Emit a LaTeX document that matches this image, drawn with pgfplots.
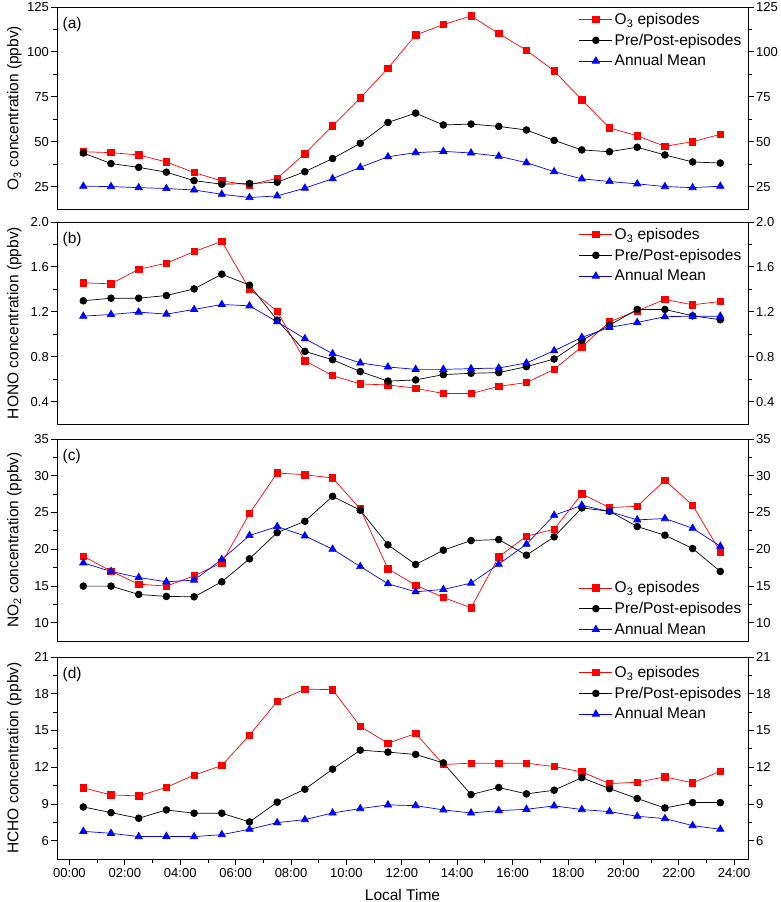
\documentclass[border=0pt]{standalone}
\usepackage{fontspec}
\setmainfont{Liberation Sans}
\usepackage{pgfplots}
\usepackage{pgfplotstable}
\pgfplotsset{compat=1.18}

% diurnal profiles, hour t = 0.5 ... 23.5
% r = O3 episodes, k = pre/post-episodes, b = annual mean
\pgfplotstableread{
t    r      k      b
0.5  44.4   43.7   25.2
1.5  43.9   37.8   25.0
2.5  42.6   35.7   24.4
3.5  38.7   33.0   23.9
4.5  32.8   28.3   23.1
5.5  28.1   26.3   20.7
6.5  25.9   26.7   18.9
7.5  29.6   27.4   19.8
8.5  43.3   33.3   24.1
9.5  58.9   40.6   29.4
10.5 74.3   49.1   35.7
11.5 90.9   60.7   41.6
12.5 109.4  65.9   43.9
13.5 115.2  59.3   44.6
14.5 120.0  59.8   43.7
15.5 110.2  58.5   41.9
16.5 100.9  56.5   38.3
17.5 89.4   50.7   33.3
18.5 73.3   45.4   29.3
19.5 57.6   44.4   27.8
20.5 53.3   46.9   26.5
21.5 47.4   42.6   25.0
22.5 50.0   38.7   24.4
23.5 54.1   38.1   25.2
}\otrois

\pgfplotstableread{
t    r      k      b
0.5  1.458  1.298  1.161
1.5  1.449  1.321  1.176
2.5  1.579  1.321  1.197
3.5  1.633  1.345  1.179
4.5  1.736  1.404  1.221
5.5  1.828  1.535  1.265
6.5  1.401  1.437  1.253
7.5  1.206  1.126  1.111
8.5  0.764  0.847  0.960
9.5  0.631  0.773  0.827
10.5 0.557  0.667  0.744
11.5 0.548  0.582  0.708
12.5 0.519  0.593  0.687
13.5 0.471  0.640  0.687
14.5 0.471  0.652  0.693
15.5 0.536  0.658  0.699
16.5 0.569  0.711  0.744
17.5 0.687  0.779  0.853
18.5 0.889  0.945  0.972
19.5 1.111  1.081  1.061
20.5 1.209  1.221  1.105
21.5 1.310  1.221  1.156
22.5 1.262  1.164  1.161
23.5 1.292  1.129  1.161
}\hono

\pgfplotstableread{
t    r      k      b
0.5  19.05  14.97  18.14
1.5  17.00  14.97  16.97
2.5  15.24  13.84  16.15
3.5  14.97  13.57  15.56
4.5  16.38  13.52  15.79
5.5  18.14  15.56  18.60
6.5  24.85  18.69  21.86
7.5  30.37  22.26  23.08
8.5  30.14  23.80  21.81
9.5  29.69  27.20  20.00
10.5 25.48  25.30  17.64
11.5 17.33  20.59  15.29
12.5 15.10  17.92  14.20
13.5 13.43  19.86  14.52
14.5 12.03  21.18  15.38
15.5 18.96  21.31  17.96
16.5 21.77  19.18  20.68
17.5 22.72  21.68  24.62
18.5 27.52  25.62  25.98
19.5 25.66  25.16  25.12
20.5 25.84  23.08  23.99
21.5 29.38  21.90  24.17
22.5 25.98  20.09  22.85
23.5 19.64  16.97  20.41
}\notwo

\pgfplotstableread{
t    r      k      b
0.5  10.31  8.75   6.76
1.5  9.74   8.29   6.60
2.5  9.65   7.83   6.33
3.5  10.36  8.51   6.35
4.5  11.35  8.24   6.33
5.5  12.14  8.24   6.49
6.5  14.62  7.53   6.93
7.5  17.37  9.14   7.47
8.5  18.38  10.20  7.72
9.5  18.33  11.84  8.26
10.5 15.33  13.39  8.62
11.5 13.96  13.23  8.92
12.5 14.75  13.04  8.86
13.5 12.22  12.35  8.51
14.5 12.33  9.76   8.26
15.5 12.33  10.34  8.45
16.5 12.33  9.82   8.56
17.5 12.05  10.12  8.84
18.5 11.62  11.15  8.54
19.5 10.66  10.25  8.37
20.5 10.77  9.44   7.99
21.5 11.21  8.67   7.80
22.5 10.72  9.11   7.23
23.5 11.67  9.11   6.93
}\hcho

\newcommand\tickfont{\fontsize{13}{15}\selectfont}
\newcommand\labfont{\fontsize{15.5}{18}\selectfont}
\newcommand\legfont{\fontsize{15.5}{18}\selectfont}

\pgfplotsset{
  panel/.style={
    scale only axis, width=691pt, height=202pt,
    anchor=north west,
    xmin=-0.45, xmax=24.5,
    tick align=outside,
    major tick length=6pt, minor tick length=3.5pt,
    axis line style={line width=0.9pt},
    tick style={black, line width=0.8pt},
    minor y tick num=1,
    xmajorticks=false,
    /pgf/number format/assume math mode=true,
    tick label style={font=\tickfont},
    yticklabel style={inner sep=2pt},
    label style={font=\labfont},
    ylabel style={at={(axis description cs:0,0.5)}, anchor=base, yshift=38.5pt},
  },
  leftside/.style={panel, ytick pos=left,
    legend style={draw=none, fill=none, font=\legfont, row sep=4pt,
      inner sep=1pt, cells={anchor=west}},
    legend image code/.code={
      \draw[mark repeat=2,mark phase=2,##1] plot coordinates {(0pt,0pt) (16.5pt,0pt) (33pt,0pt)};},
  },
  rightside/.style={panel, hide x axis, axis y line*=right, ytick pos=right, yticklabel pos=right},
  pa/.style={ymin=12.5, ymax=125, ytick={25,50,75,100,125}},
  pb/.style={ymin=0.2, ymax=2.0, ytick={0.4,0.8,1.2,1.6,2.0},
    yticklabel style={/pgf/number format/.cd, fixed, fixed zerofill, precision=1}},
  pc/.style={ymin=7.5, ymax=35, ytick={10,15,20,25,30,35}},
  pd/.style={ymin=4.5, ymax=21, ytick={6,9,12,15,18,21}},
  sred/.style={red, line width=0.7pt, mark=square*, mark size=3.2pt, mark options={solid}},
  sblack/.style={black, line width=0.7pt, mark=*, mark size=3.4pt, mark options={solid}},
  sblue/.style={blue, line width=0.7pt, mark=triangle*, mark size=4.2pt, mark options={solid}},
}

\begin{document}
\begin{tikzpicture}
\useasboundingbox (-57pt,7pt) rectangle (724pt,-895pt);

% (a) O3
\begin{axis}[leftside, pa, at={(0pt,0pt)},
  ylabel={O\textsubscript{3} concentration (ppbv)},
  legend style={at={(rel axis cs:0.995,0.985)}, anchor=north east}]
  \addplot[sred] table[x=t, y=r] {\otrois};
  \addplot[sblack] table[x=t, y=k] {\otrois};
  \addplot[sblue] table[x=t, y=b] {\otrois};
  \legend{O\textsubscript{3} episodes, Pre/Post-episodes, Annual Mean}
  \node[anchor=west, font=\legfont] at (rel axis cs:0.003,0.915) {(a)};
\end{axis}
\begin{axis}[rightside, pa, at={(0pt,0pt)}]
\end{axis}

% (b) HONO
\begin{axis}[leftside, pb, at={(0pt,-215pt)},
  ylabel={HONO concentration (ppbv)},
  legend style={at={(rel axis cs:0.995,0.985)}, anchor=north east}]
  \addplot[sred] table[x=t, y=r] {\hono};
  \addplot[sblack] table[x=t, y=k] {\hono};
  \addplot[sblue] table[x=t, y=b] {\hono};
  \legend{O\textsubscript{3} episodes, Pre/Post-episodes, Annual Mean}
  \node[anchor=west, font=\legfont] at (rel axis cs:0.003,0.915) {(b)};
\end{axis}
\begin{axis}[rightside, pb, at={(0pt,-215pt)}]
\end{axis}

% (c) NO2
\begin{axis}[leftside, pc, at={(0pt,-432pt)},
  ylabel={NO\textsubscript{2} concentration (ppbv)},
  legend style={at={(rel axis cs:0.995,0.01)}, anchor=south east}]
  \addplot[sred] table[x=t, y=r] {\notwo};
  \addplot[sblack] table[x=t, y=k] {\notwo};
  \addplot[sblue] table[x=t, y=b] {\notwo};
  \legend{O\textsubscript{3} episodes, Pre/Post-episodes, Annual Mean}
  \node[anchor=west, font=\legfont] at (rel axis cs:0.003,0.915) {(c)};
\end{axis}
\begin{axis}[rightside, pc, at={(0pt,-432pt)}]
\end{axis}

% (d) HCHO
\begin{axis}[leftside, pd, at={(0pt,-650pt)},
  ylabel={HCHO concentration (ppbv)},
  xmajorticks=true, xtick pos=bottom,
  xtick={0,2,...,24}, minor x tick num=1,
  xticklabels={00:00,02:00,04:00,06:00,08:00,10:00,12:00,14:00,16:00,18:00,20:00,22:00,24:00},
  xlabel={Local Time},
  xlabel style={at={(axis description cs:0.5,0)}, anchor=base, yshift=-41pt},
  legend style={at={(rel axis cs:0.995,0.97)}, anchor=north east}]
  \addplot[sred] table[x=t, y=r] {\hcho};
  \addplot[sblack] table[x=t, y=k] {\hcho};
  \addplot[sblue] table[x=t, y=b] {\hcho};
  \legend{O\textsubscript{3} episodes, Pre/Post-episodes, Annual Mean}
  \node[anchor=west, font=\legfont] at (rel axis cs:0.003,0.915) {(d)};
\end{axis}
\begin{axis}[rightside, pd, at={(0pt,-650pt)}]
\end{axis}
\end{tikzpicture}
\end{document}
